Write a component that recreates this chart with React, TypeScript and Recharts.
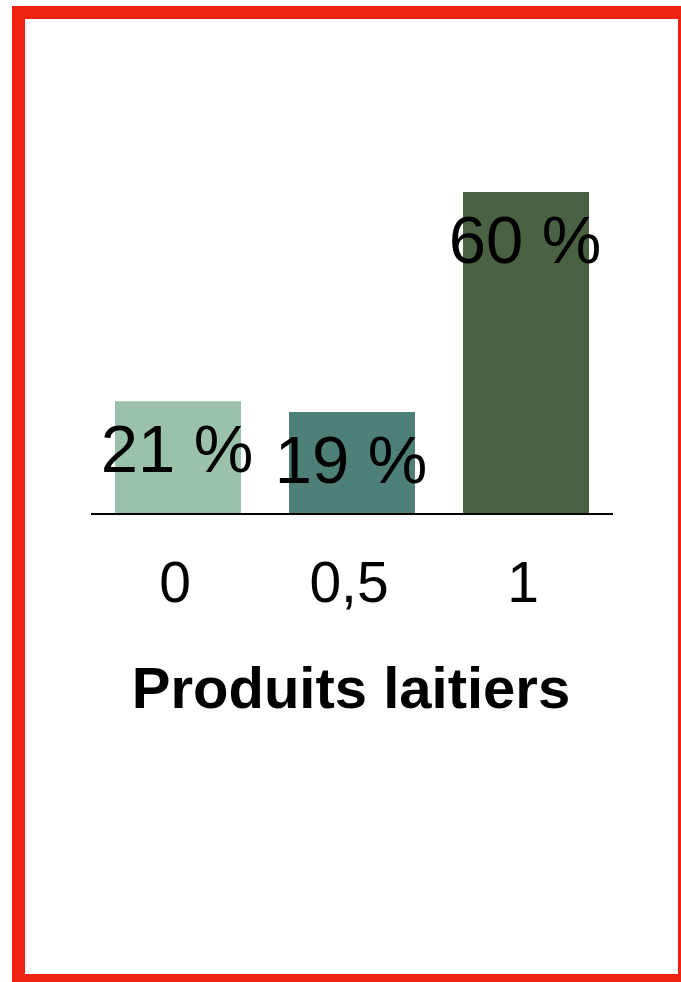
import React from "react";
import { BarChart, Bar, XAxis, YAxis, Cell, LabelList, Label } from "recharts";

const categories = ["0", "0,5", "1"];
const shares = [21, 19, 60];
const barColors = ["#9BC1AA", "#4E8078", "#4A6242"];
const axisTitle = "Produits laitiers";

const data = categories.map((c, i) => ({ cat: c, value: shares[i] }));

const FONT = "'Liberation Sans', Arial, Helvetica, sans-serif";

const ValueLabel = (props: any) => {
  const { x, y, width, value } = props;
  return (
    <text
      x={Number(x) + Number(width) / 2 - 1}
      y={Number(y) + 71}
      textAnchor="middle"
      fontSize={67}
      fontFamily={FONT}
      fill="#000"
    >
      {`${value} %`}
    </text>
  );
};

const CatTick = (props: any) => {
  const { x, y, payload } = props;
  return (
    <text x={x - 3} y={y + 88} textAnchor="middle" fontSize={57} fontFamily={FONT} fill="#000">
      {payload.value}
    </text>
  );
};

const TitleLabel = (props: any) => {
  const { viewBox } = props;
  return (
    <text
      x={viewBox.x + viewBox.width / 2 - 1}
      y={viewBox.y + 194}
      textAnchor="middle"
      fontSize={58}
      fontWeight="bold"
      fontFamily={FONT}
      fill="#000"
    >
      {axisTitle}
    </text>
  );
};

export default function App() {
  return (
    <div
      style={{
        position: "fixed",
        left: 0,
        top: 0,
        width: 681,
        height: 982,
        overflow: "hidden",
        background: "#fff",
      }}
    >
      <div
        style={{
          position: "absolute",
          left: 12,
          top: 6,
          width: 679,
          height: 981,
          border: "13px solid #EE2211",
          boxSizing: "border-box",
        }}
      />
      <div style={{ position: "absolute", left: 0, top: 0 }}>
        <BarChart
          width={681}
          height={982}
          data={data}
          margin={{ top: 192, right: 68, left: 91, bottom: 348 }}
          barSize={126}
        >
          <YAxis hide domain={[0, 60]} />
          <XAxis
            dataKey="cat"
            height={120}
            tick={<CatTick />}
            tickLine={false}
            tickSize={0}
            tickMargin={0}
            axisLine={{ stroke: "#000", strokeWidth: 2 }}
            interval={0}
          >
            <Label content={<TitleLabel />} />
          </XAxis>
          <Bar dataKey="value" isAnimationActive={false}>
            {data.map((d, i) => (
              <Cell key={d.cat} fill={barColors[i]} />
            ))}
            <LabelList dataKey="value" content={<ValueLabel />} />
          </Bar>
        </BarChart>
      </div>
    </div>
  );
}
